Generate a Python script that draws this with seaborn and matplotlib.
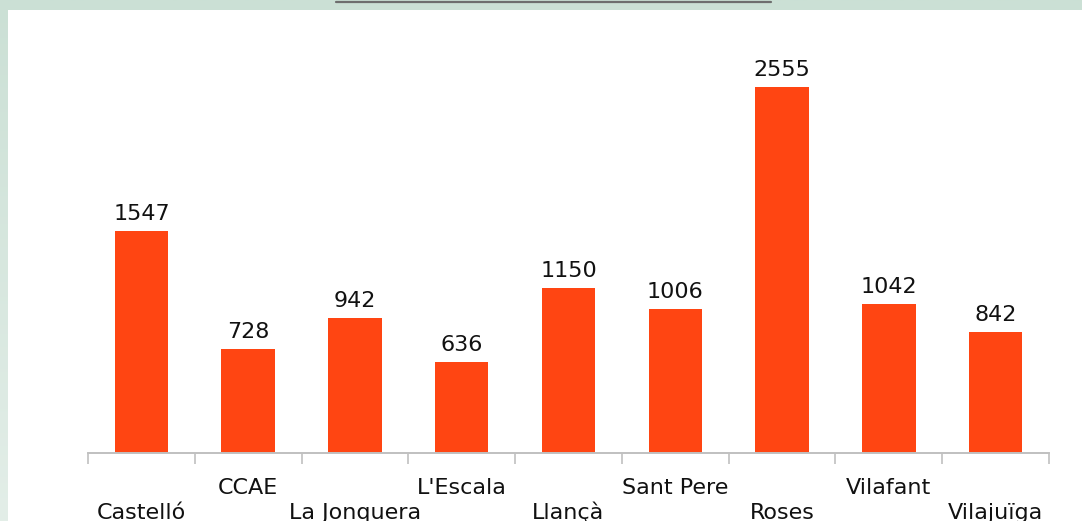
import numpy as np
import pandas as pd
import matplotlib
matplotlib.use("Agg")
import matplotlib.pyplot as plt
import matplotlib.colors as mcolors
import matplotlib.transforms as mtrans
from matplotlib.patches import Rectangle
from matplotlib.lines import Line2D
import seaborn as sns

categories = ["Castelló", "CCAE", "La Jonquera", "L'Escala", "Llançà",
              "Sant Pere", "Roses", "Vilafant", "Vilajuïga"]
values = [1547, 728, 942, 636, 1150, 1006, 2555, 1042, 842]

sns.set_style("white")
plt.rcParams['font.family'] = ['DejaVu Sans']

W, H = 1082, 521
fig = plt.figure(figsize=(W / 100, H / 100), dpi=100)

# background gradient frame
bg = fig.add_axes([0, 0, 1, 1])
bg.set_axis_off()
cmap = mcolors.LinearSegmentedColormap.from_list("g", ["#CBE0D5", "#E3EEE8"])
grad = np.linspace(0, 1, 256).reshape(-1, 1)
bg.imshow(grad, aspect="auto", cmap=cmap, extent=[0, 1, 0, 1], origin="upper")
bg.set_xlim(0, 1)
bg.set_ylim(0, 1)
bg.add_patch(Rectangle((8 / W, 0), 1 - 8 / W, 1 - 10 / H, facecolor="white",
                       edgecolor="none"))
# remnant of cut-off title underline
bg.add_line(Line2D([336 / W, 771 / W], [1 - 1.5 / H, 1 - 1.5 / H],
                   color="#6E6E6E", linewidth=1.6))

df = pd.DataFrame({"cat": categories, "val": values})

left, right = 88 / W, 1049 / W
bottom = (H - 453) / H
ymax = 3000
px_per_unit = 366 / 2555
ax_h_px = ymax * px_per_unit
ax = fig.add_axes([left, bottom, right - left, ax_h_px / H])
ax.patch.set_alpha(0)

sns.barplot(data=df, x="cat", y="val", color="#FF4512", saturation=1,
            width=0.5, linewidth=0, ax=ax)
ax.set_xlim(-0.5, len(categories) - 0.5)
ax.set_ylim(0, ymax)

for c in ax.containers:
    ax.bar_label(c, labels=[str(v) for v in values], padding=5,
                 fontsize=16, color="#111111")

for s in ["left", "right", "top"]:
    ax.spines[s].set_visible(False)
ax.spines["bottom"].set_color("#C0C0C0")
ax.spines["bottom"].set_linewidth(1.4)
ax.set_yticks([])
ax.set_xlabel("")
ax.set_ylabel("")

# category labels, staggered on two rows
ax.set_xticks(range(len(categories)))
ax.set_xticklabels([])
ax.tick_params(axis="x", which="major", length=0)
trans = mtrans.blended_transform_factory(ax.transData, ax.transAxes)
for i, c in enumerate(categories):
    y_px = 519 if i % 2 == 0 else 494
    ax.text(i, -(y_px - 453) / ax_h_px, c, transform=trans, ha="center",
            va="baseline", fontsize=16, color="#111111", clip_on=False)

ax.set_xticks(np.arange(-0.5, len(categories), 1.0), minor=True)
ax.tick_params(axis="x", which="minor", bottom=True, length=8, width=1.2,
               color="#C0C0C0", direction="out")

fig.savefig("out.png", dpi=100)
